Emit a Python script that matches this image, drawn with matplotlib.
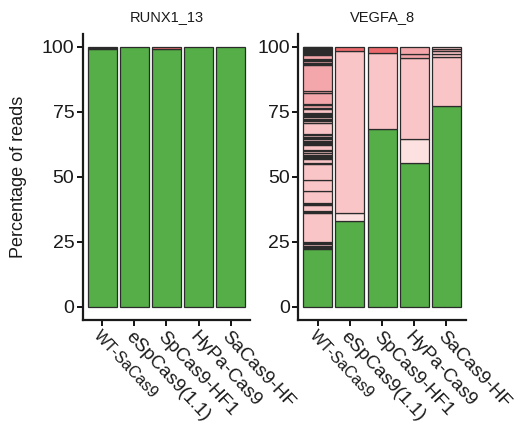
import matplotlib.pyplot as plt

plt.rcParams['font.family'] = ['Liberation Sans', 'DejaVu Sans']

samples = ["WT-SaCas9", "eSpCas9(1.1)", "SpCas9-HF1", "HyPa-Cas9", "SaCas9-HF"]
genes = ["RUNX1_13", "VEGFA_8"]

# allele class -> fill colour
fills = {"wt": "#55ae47", "a": "#f9c5c6", "b": "#f4a7aa", "c": "#fde1e1", "d": "#ec6a6d"}

# RUNX1_13, stacked read percentages per sample (bottom to top)
runx1_pct = [
    [99.3, 0.35, 0.35],
    [100.0],
    [99.0, 1.0],
    [100.0],
    [100.0],
]
runx1_cls = [
    ["wt", "b", "b"],
    ["wt"],
    ["wt", "d"],
    ["wt"],
    ["wt"],
]

# VEGFA_8
vegfa_wt_pct = [22.2, 0.4, 0.4, 0.5, 0.5, 0.4, 0.5, 11.3, 0.4, 0.4, 2.2, 0.4, 0.4,
                4.5, 4.3, 6.0, 0.5, 1.4, 0.4, 0.4, 0.4, 0.4, 1.0, 0.5, 0.5, 1.8,
                0.4, 0.5, 0.5, 0.4, 0.6, 0.5, 0.4, 0.5, 0.5, 4.1, 0.8, 0.4, 0.4,
                0.8, 0.5, 0.4, 0.4, 0.4, 1.5, 0.4, 0.9, 0.7, 4.2, 0.7, 10.1, 0.35,
                0.35, 0.8, 0.4, 0.4, 1.5, 0.4, 0.3, 0.3, 0.3, 0.3, 0.3, 0.3, 0.3,
                0.3, 0.3]
vegfa_wt_cls = ["wt"] + ["a"] * 44 + ["b"] * 22

vegfa_pct = [
    vegfa_wt_pct,
    [33.1, 3.1, 62.1, 1.7],
    [68.3, 29.4, 2.3],
    [55.4, 9.1, 31.0, 1.7, 2.8],
    [77.1, 19.1, 1.0, 1.3, 0.8, 0.7],
]
vegfa_cls = [
    vegfa_wt_cls,
    ["wt", "c", "a", "d"],
    ["wt", "a", "d"],
    ["wt", "c", "a", "b", "b"],
    ["wt", "a", "a", "a", "b", "a"],
]

W, H = 526, 428
fig = plt.figure(figsize=(W / 100, H / 100), dpi=100)

ink = "#1a1a1a"
panel_left = [82.7, 298.3]
panel_w = 167.5
top, bottom = 33.7, 319.7

for k, (gene, pct, cls) in enumerate([(genes[0], runx1_pct, runx1_cls),
                                       (genes[1], vegfa_pct, vegfa_cls)]):
    ax = fig.add_axes([panel_left[k] / W, 1 - bottom / H, panel_w / W, (bottom - top) / H])
    for i in range(len(samples)):
        base = 0
        for v, c in zip(pct[i], cls[i]):
            ax.bar(i, v, bottom=base, width=0.9, color=fills[c],
                   edgecolor="#2b2b2b", linewidth=0.9)
            base += v
    ax.set_xlim(-0.6, len(samples) - 0.4)
    ax.set_ylim(-5, 105)
    ax.set_yticks([0, 25, 50, 75, 100])
    ax.set_xticks(range(len(samples)))
    labels = ax.set_xticklabels(samples, rotation=-47, ha="left", va="top",
                                rotation_mode="anchor", fontsize=13.5, color=ink)
    labels[0].set_fontsize(11.5)
    ax.tick_params(axis="y", labelsize=14, labelcolor=ink, length=4, width=1.3, pad=2)
    ax.tick_params(axis="x", length=4, width=1.3, pad=2)
    for s in ["top", "right"]:
        ax.spines[s].set_visible(False)
    for s in ["left", "bottom"]:
        ax.spines[s].set_linewidth(1.6)
        ax.spines[s].set_color(ink)
    fig.text((panel_left[k] + panel_w / 2) / W, 1 - 17 / H, gene,
             ha="center", va="center", fontsize=10.5, color=ink)

fig.text(18.5 / W, 1 - 176.7 / H, "Percentage of reads", rotation=90,
         ha="center", va="center", fontsize=13, color=ink)

fig.savefig("out.png", dpi=100)
